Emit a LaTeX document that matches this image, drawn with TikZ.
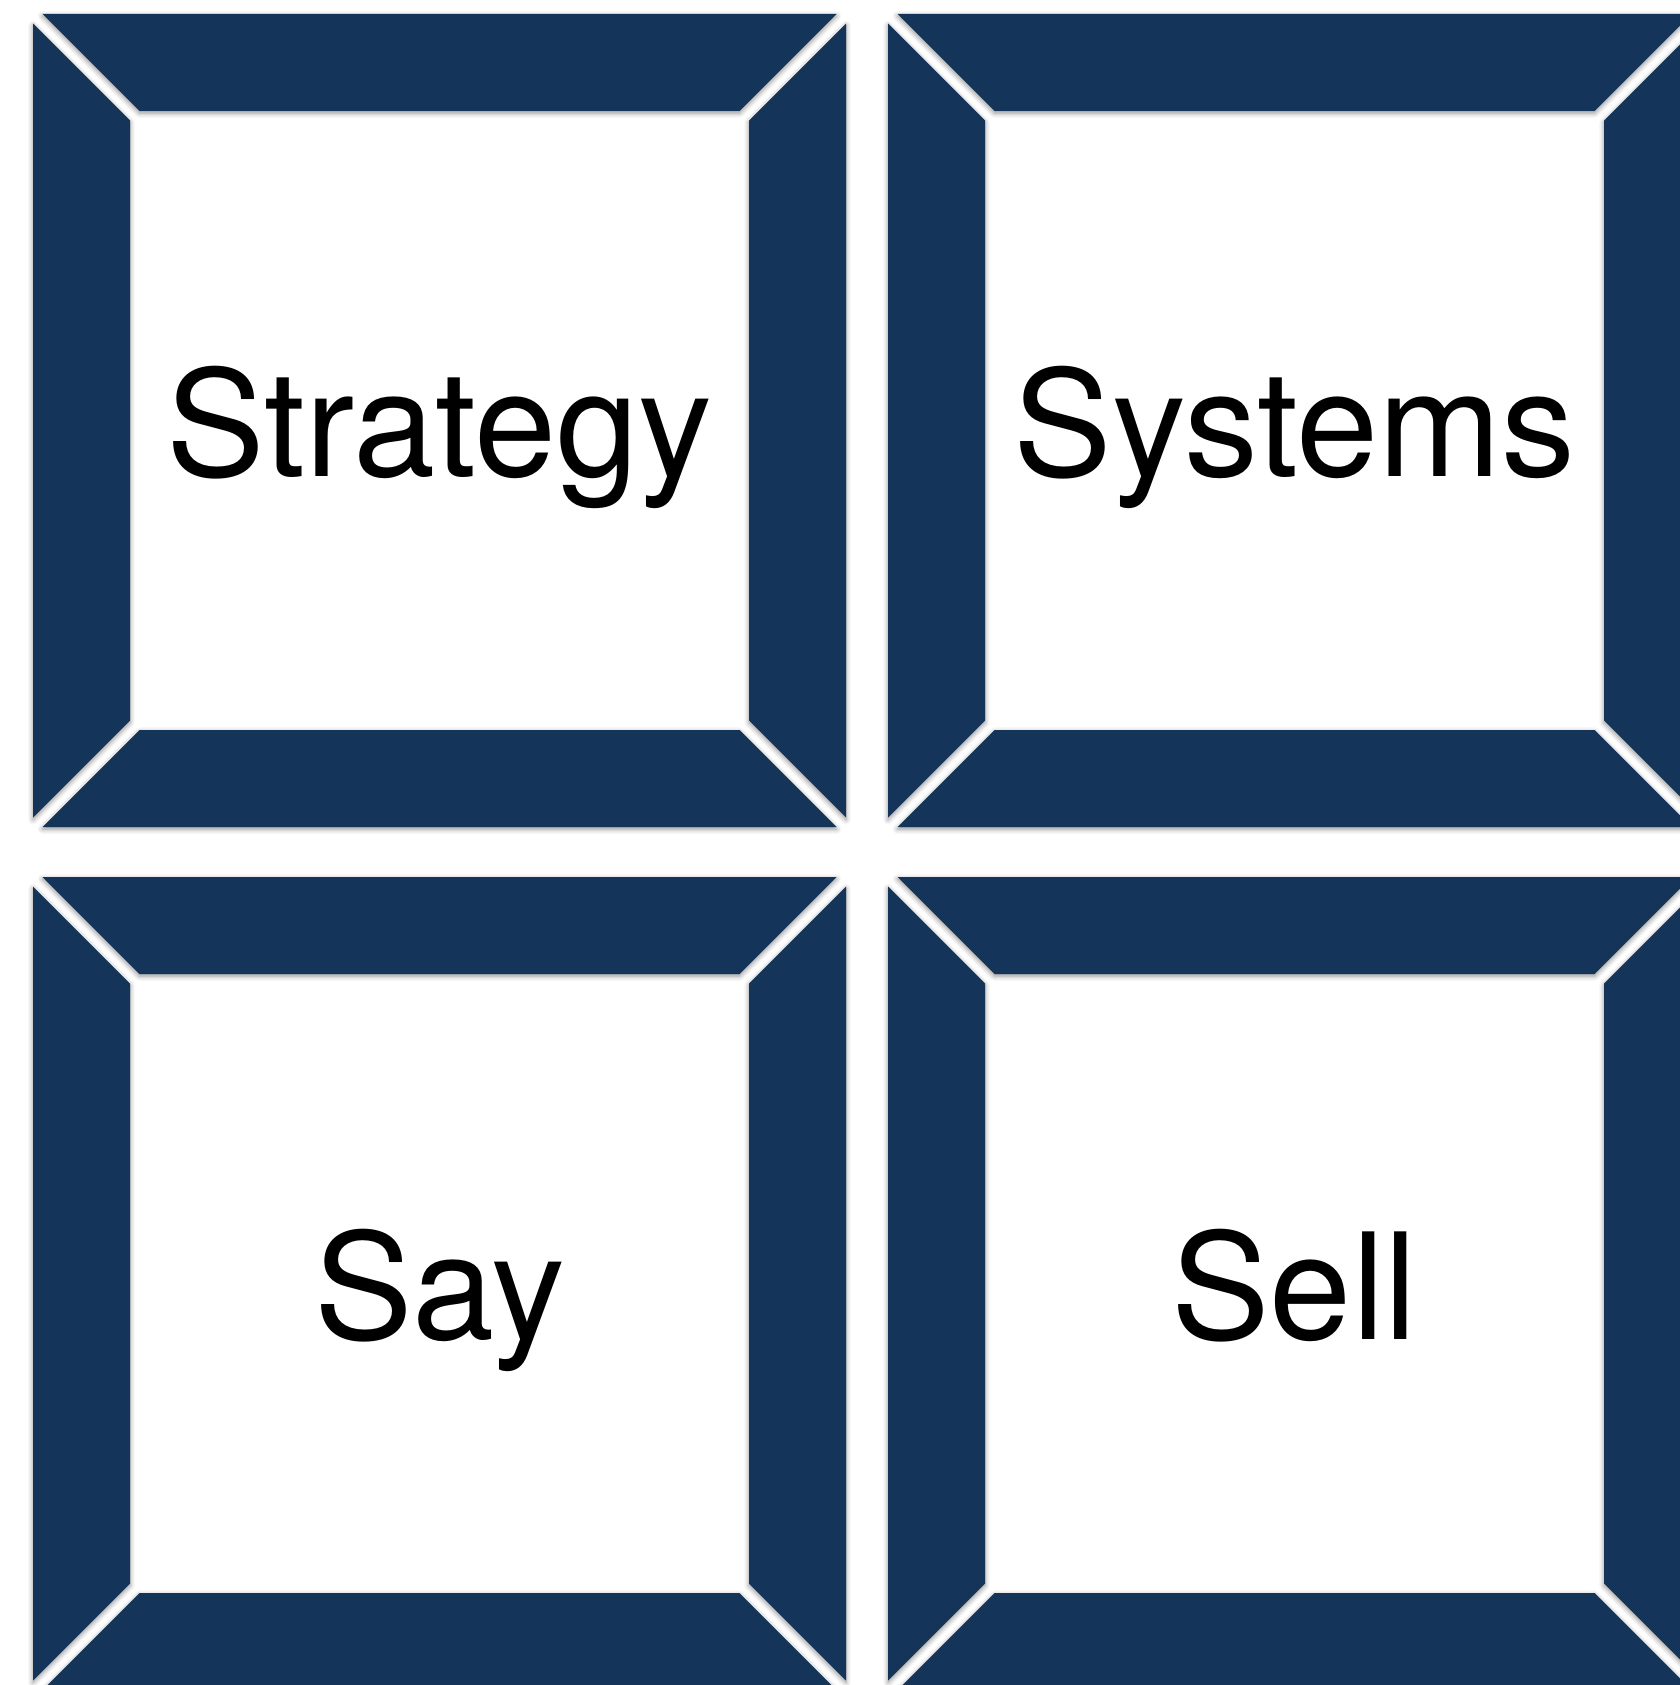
\documentclass[tikz,border=0pt]{standalone}
\usepackage{fontspec}
\setmainfont{TeX Gyre Heros}
\usetikzlibrary{shadows.blur}
\definecolor{navy}{RGB}{20,52,89}
\tikzset{
  band/.style={fill=navy, blur shadow={shadow xshift=0pt, shadow yshift=-0.6pt, shadow blur radius=1.4pt, shadow opacity=45}},
  word/.style={font=\fontsize{42}{48}\selectfont, anchor=base, inner sep=0pt}
}
\begin{document}
\begin{tikzpicture}[x=0.01cm, y=-0.01cm]
\useasboundingbox (0,0) rectangle (1680,1685);
\foreach \fx/\fy/\word/\id in {33/14/Strategy/strat, 888/14/Systems/sys, 33/877/Say/say, 888/877/Sell/sell}{
  \begin{scope}[shift={(\fx,\fy)}]
  % top, left, right and bottom bands of the frame
  \fill[band] (9.5,0) -- (803.5,0) -- (706.5,97) -- (106.5,97) -- cycle;
  \fill[band] (0,9.5) -- (97,106.5) -- (97,706.5) -- (0,803.5) -- cycle;
  \fill[band] (813,9.5) -- (716,106.5) -- (716,706.5) -- (813,803.5) -- cycle;
  \fill[band] (9.5,813) -- (106.5,716) -- (706.5,716) -- (803.5,813) -- cycle;
  \node[word] (\id) at (406.5,462) {\word};
  \end{scope}
}
\end{tikzpicture}
\end{document}
